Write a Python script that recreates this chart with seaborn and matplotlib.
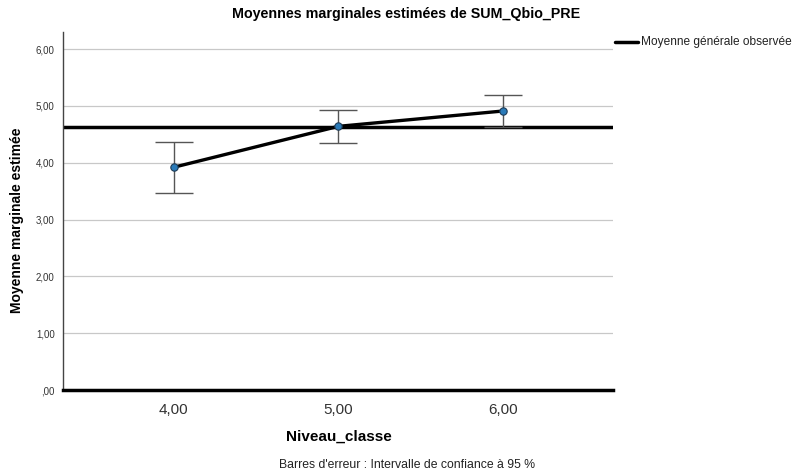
import matplotlib
matplotlib.use("Agg")
import matplotlib.pyplot as plt
import seaborn as sns
import pandas as pd

# Estimated marginal means of SUM_Qbio_PRE by Niveau_classe
niveaux = ["4,00", "5,00", "6,00"]
moyennes = [3.92, 4.64, 4.91]
ic_bas = [3.47, 4.34, 4.62]
ic_haut = [4.37, 4.93, 5.20]
moyenne_generale = 4.625
y_ticks = [0, 1, 2, 3, 4, 5, 6]
y_tick_labels = [",00", "1,00", "2,00", "3,00", "4,00", "5,00", "6,00"]

df = pd.DataFrame({"pos": range(len(niveaux)), "niveau": niveaux, "moyenne": moyennes,
                   "bas": ic_bas, "haut": ic_haut})

sns.set_theme(style="white")
plt.rcParams["font.family"] = ["Liberation Sans", "DejaVu Sans"]

fig = plt.figure(figsize=(7.99, 4.75), dpi=100)
ax = fig.add_axes([63 / 799, 1 - 390 / 475, 550 / 799, 358 / 475])

# gridlines
for v in y_ticks[1:]:
    ax.axhline(v, color="#c8c8c8", lw=0.9, zorder=0)

# overall observed mean
ax.axhline(moyenne_generale, color="black", lw=2.5, zorder=2)

# 95% CI error bars
ax.errorbar(df["pos"], df["moyenne"],
            yerr=[df["moyenne"] - df["bas"], df["haut"] - df["moyenne"]],
            fmt="none", ecolor="#555555", elinewidth=1.0, capsize=13.5, capthick=1.0, zorder=3)

sns.lineplot(data=df, x="pos", y="moyenne", ax=ax, color="black", lw=2.4, zorder=4,
             estimator=None, sort=False)
sns.scatterplot(data=df, x="pos", y="moyenne", ax=ax, color="#2a7ab8", edgecolor="#1d3b55",
                s=28, linewidth=0.8, zorder=5)

ax.set_xlim(-0.673, 2.667)
ax.set_ylim(0, 6.3)
ax.set_xticks(df["pos"])
ax.set_xticklabels(niveaux, fontsize=11, color="#333333")
ax.set_yticks(y_ticks)
ax.set_yticklabels(y_tick_labels, fontsize=7, color="#333333")
ax.tick_params(axis="both", length=0, pad=6)
ax.tick_params(axis="x", pad=9)

for side in ["top", "right"]:
    ax.spines[side].set_visible(False)
ax.spines["left"].set_color("#444444")
ax.spines["left"].set_linewidth(1.0)
ax.spines["bottom"].set_color("black")
ax.spines["bottom"].set_linewidth(2.5)

ax.set_xlabel("")
ax.set_ylabel("")

fig.text(17 / 799, 1 - 220 / 475, "Moyenne marginale estimée", rotation=90, fontsize=10,
         fontweight="bold", ha="center", va="center", color="black")
fig.text(339 / 799, 1 - 437 / 475, "Niveau_classe", fontsize=11, fontweight="bold",
         ha="center", va="center", color="black")
fig.text(406 / 799, 1 - 14 / 475, "Moyennes marginales estimées de SUM_Qbio_PRE", fontsize=10.3,
         fontweight="bold", ha="center", va="center", color="black")
fig.text(407 / 799, 1 - 465 / 475, "Barres d'erreur : Intervalle de confiance à 95 %", fontsize=8.8,
         ha="center", va="center", color="#222222")

# legend entry
fig.add_artist(plt.Line2D([615 / 799, 638 / 799], [1 - 42 / 475, 1 - 42 / 475],
                          color="black", lw=2.5, transform=fig.transFigure))
fig.text(641 / 799, 1 - 42 / 475, "Moyenne générale observée", fontsize=8.6,
         ha="left", va="center", color="#222222")

fig.savefig("out.png", dpi=100)
